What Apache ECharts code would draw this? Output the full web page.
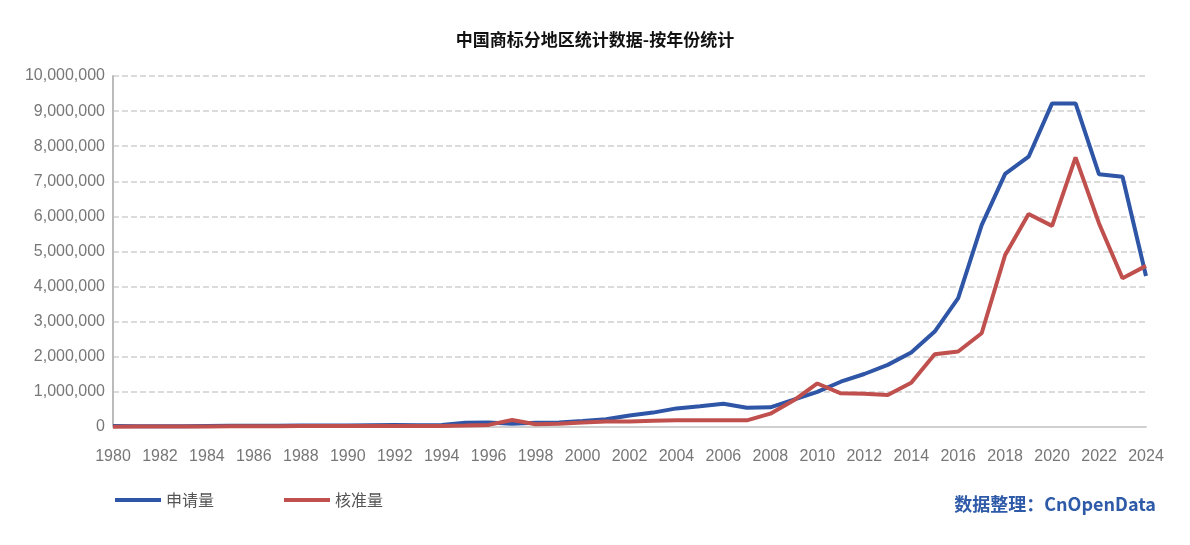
<!DOCTYPE html>
<html>
<head>
    <meta charset="UTF-8">
    <title>中国商标分地区统计数据</title>
    <script src="https://cdn.jsdelivr.net/npm/echarts@6/dist/echarts.min.js"></script>
    <style>body{margin:0;background:#fff}</style>
</head>
<body>
<div id="main" style="width:1190px;height:545px;"></div>
<script type="text/javascript">
    var years = [];
    for (var y = 1980; y <= 2024; y++) years.push(String(y));

    // 申请量
    var apply = [26000, 22000, 20000, 24000, 30000, 36000, 35000, 38000, 42000, 40000,
        42000, 50000, 55000, 50000, 60000, 120000, 130000, 90000, 120000, 130000,
        170000, 220000, 330000, 410000, 530000, 590000, 660000, 550000, 560000, 780000,
        1000000, 1290000, 1510000, 1770000, 2120000, 2720000, 3670000, 5750000, 7210000, 7700000,
        9220000, 9220000, 7200000, 7130000, 4300000];
    // 核准量
    var approve = [10000, 12000, 13000, 14000, 16000, 22000, 20000, 24000, 26000, 25000,
        26000, 28000, 30000, 28000, 25000, 40000, 60000, 200000, 80000, 90000,
        130000, 160000, 160000, 180000, 190000, 190000, 190000, 190000, 380000, 760000,
        1240000, 960000, 950000, 910000, 1260000, 2070000, 2150000, 2670000, 4900000, 6070000,
        5730000, 7680000, 5800000, 4240000, 4590000];

    var myChart = echarts.init(document.getElementById('main'));
    var option = {
        backgroundColor: '#ffffff',
        title: {
            text: '中国商标分地区统计数据-按年份统计',
            left: 'center', top: 26,
            textStyle: {fontSize: 17, fontWeight: 'bold', color: '#111', fontFamily: 'Noto Sans CJK SC'}
        },
        legend: {
            left: 110, bottom: 32, itemGap: 70, itemWidth: 46, itemHeight: 4,
            icon: 'rect',
            textStyle: {fontSize: 16, color: '#555', fontFamily: 'Noto Sans CJK SC'},
            data: ['申请量', '核准量']
        },
        graphic: [{
            type: 'text', right: 34, bottom: 32,
            style: {text: '数据整理：CnOpenData', fill: '#2e5aa8',
                font: 'bold 18px "Noto Sans CJK SC"'}
        }],
        grid: {left: 113, right: 44, top: 76, bottom: 118},
        xAxis: {
            type: 'category', boundaryGap: false, data: years,
            axisLine: {lineStyle: {color: '#d0d0d0', width: 2}},
            axisTick: {show: false},
            axisLabel: {interval: 1, color: '#777', fontSize: 16, margin: 22, fontFamily: 'Liberation Sans'}
        },
        yAxis: {
            type: 'value', min: 0, max: 10000000, interval: 1000000,
            axisLine: {show: true, lineStyle: {color: '#bbb', width: 2}},
            splitLine: {lineStyle: {color: '#d0d0d0', type: 'dashed', width: 1.5}},
            axisLabel: {color: '#777', fontSize: 16, margin: 8, fontFamily: 'Liberation Sans'}
        },
        series: [
            {name: '申请量', type: 'line', symbol: 'none', data: apply,
                lineStyle: {width: 4, color: '#2e55a6'}, itemStyle: {color: '#2e55a6'}},
            {name: '核准量', type: 'line', symbol: 'none', data: approve,
                lineStyle: {width: 4, color: '#c0504d'}, itemStyle: {color: '#c0504d'}}
        ]
    };
    myChart.setOption(option);
</script>
</body>
</html>
